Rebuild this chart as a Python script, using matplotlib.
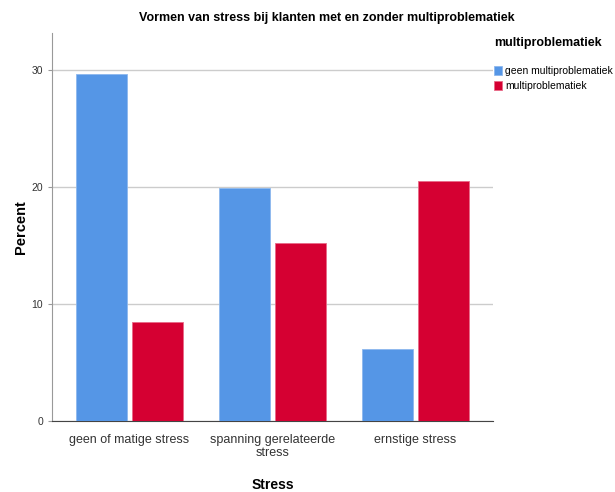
import numpy as np
import matplotlib.pyplot as plt

plt.rcParams['font.family'] = ['Liberation Sans', 'DejaVu Sans']

# data
categories = ['geen of matige stress', 'spanning gerelateerde\nstress', 'ernstige stress']
geen_multi = [29.7, 19.9, 6.2]
multi = [8.5, 15.2, 20.5]
series_names = ['geen multiproblematiek', 'multiproblematiek']

blue = '#5596E6'
red = '#D50032'

fig = plt.figure(figsize=(6.15, 4.92), dpi=100)
ax = fig.add_axes([0.0846, 0.1443, 0.717, 0.789])

x = np.arange(len(categories))
w = 0.357
off = 0.196
ax.bar(x - off, geen_multi, w, color=blue, edgecolor='#8DB8EE', linewidth=0.6,
       label=series_names[0], zorder=3)
ax.bar(x + off, multi, w, color=red, edgecolor='#E86A88', linewidth=0.6,
       label=series_names[1], zorder=3)

ax.set_xlim(-0.542, 2.542)
ax.set_ylim(0, 33.2)
ax.set_yticks([0, 10, 20, 30])
ax.set_xticks(x)
ax.set_xticklabels(categories, fontsize=9, color='#333333', linespacing=1.15)
ax.tick_params(axis='y', labelsize=7.5, colors='#333333', length=3, color='#999999')
ax.tick_params(axis='x', length=0, pad=9)
ax.grid(axis='y', color='#cccccc', linewidth=1, zorder=0)

for s in ['top', 'right']:
    ax.spines[s].set_visible(False)
ax.spines['left'].set_color('#999999')
ax.spines['bottom'].set_color('#444444')

ax.set_ylabel('Percent', fontsize=10.5, fontweight='bold')
ax.yaxis.set_label_coords(-0.054, 0.5)
ax.set_xlabel('Stress', fontsize=10, fontweight='bold')
ax.xaxis.set_label_coords(0.5, -0.147)
fig.suptitle('Vormen van stress bij klanten met en zonder multiproblematiek',
             fontsize=9, fontweight='bold', x=0.532, y=0.975)

leg = fig.legend(loc='upper left', bbox_to_anchor=(0.803, 0.925), frameon=False,
                 title='multiproblematiek', fontsize=7.5, handlelength=0.8,
                 handleheight=1.0, handletextpad=0.3, labelspacing=0.5,
                 borderaxespad=0, borderpad=0)
leg.get_title().set_fontweight('bold')
leg.get_title().set_fontsize(9)
leg._legend_box.sep = 12
leg._legend_box.align = 'left'

plt.savefig('out.png', dpi=100)
